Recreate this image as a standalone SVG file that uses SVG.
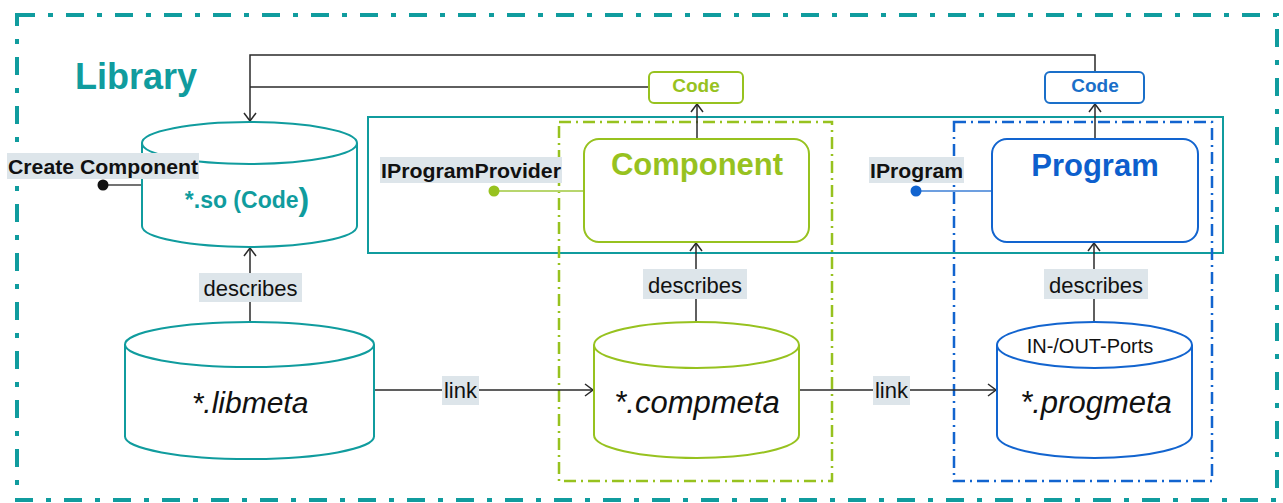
<svg xmlns="http://www.w3.org/2000/svg" width="1283" height="503" viewBox="0 0 1283 503">
<style>
.t{font-family:"Liberation Sans",Arial,sans-serif}
.b{font-weight:bold}
.cyl{fill:#fff;stroke-width:2}
.teal{stroke:#109c9e}
.green{stroke:#97c21f}
.blue{stroke:#1264cf}
.con{fill:none;stroke:#2a2a2a;stroke-width:1.5}
.lbl{fill:#dde5ea}
</style>
<defs>
<marker id="arr" viewBox="-10 -7 12 14" refX="0" refY="0" markerWidth="12" markerHeight="14" markerUnits="userSpaceOnUse" orient="auto">
<path d="M-8,-6 L0,0 L-8,6" fill="none" stroke="#2a2a2a" stroke-width="1.5"/>
</marker>
</defs>
<rect width="1283" height="503" fill="#fff"/>
<g id="library-frame">
<rect x="17" y="15" width="1260" height="485" fill="none" stroke="#109c9e" stroke-width="4" stroke-dasharray="18 13 5 13"/>
<text class="t b" x="75" y="89" font-size="36" fill="#109c9e">Library</text>
</g>
<g id="interface-area">
<rect x="368" y="117" width="855" height="136" fill="none" stroke="#109c9e" stroke-width="2"/>
</g>
<g id="component-area">
<rect x="559" y="122" width="273" height="359" fill="none" stroke="#97c21f" stroke-width="2.5" stroke-dasharray="12 5 2 5"/>
</g>
<g id="program-area">
<rect x="954" y="122" width="258" height="359" fill="none" stroke="#1264cf" stroke-width="2.5" stroke-dasharray="12 5 2 5"/>
</g>
<g id="connectors">
<path class="con" d="M1095,72 V55 H250 V121" marker-end="url(#arr)"/>
<path class="con" d="M649,87 H250"/>
<path class="con" d="M697,139 V104" marker-end="url(#arr)"/>
<path class="con" d="M1095,139 V104" marker-end="url(#arr)"/>
<path class="con" d="M250,322 V248" marker-end="url(#arr)"/>
<path class="con" d="M696,322 V243" marker-end="url(#arr)"/>
<path class="con" d="M1094,322 V243" marker-end="url(#arr)"/>
<path class="con" d="M374,390 H593" marker-end="url(#arr)"/>
<path class="con" d="M799,390 H996" marker-end="url(#arr)"/>
<path d="M103,185 H142" stroke="#444" stroke-width="1.5" fill="none"/>
<path d="M494,191 H584" stroke="#b8d66e" stroke-width="2" fill="none"/>
<path d="M916,191 H992" stroke="#6d9fe0" stroke-width="2" fill="none"/>
<g id="label-describes-1"><rect class="lbl" x="199" y="273" width="103" height="29"/><text class="t" x="250.5" y="296" font-size="22" text-anchor="middle" fill="#111">describes</text></g>
<g id="label-describes-2"><rect class="lbl" x="643" y="269" width="104" height="30"/><text class="t" x="695" y="293" font-size="22" text-anchor="middle" fill="#111">describes</text></g>
<g id="label-describes-3"><rect class="lbl" x="1044" y="269" width="104" height="30"/><text class="t" x="1096" y="293" font-size="22" text-anchor="middle" fill="#111">describes</text></g>
<g id="label-link-1"><rect class="lbl" x="442" y="376" width="37" height="29"/><text class="t" x="460.5" y="398" font-size="22" text-anchor="middle" fill="#111">link</text></g>
<g id="label-link-2"><rect class="lbl" x="873" y="376" width="37" height="29"/><text class="t" x="891.5" y="398" font-size="22" text-anchor="middle" fill="#111">link</text></g>
</g>
<g id="so-code">
<path class="cyl teal" d="M142,143 V226 A107.5,21 0 0 0 357,226 V143"/>
<ellipse class="cyl teal" cx="249.5" cy="143" rx="107.5" ry="21"/>
<text class="t b" x="247" y="208" font-size="23" text-anchor="middle" fill="#109c9e">*.so (Code<tspan font-size="32" dy="2">)</tspan></text>
</g>
<g id="create-component">
<rect class="lbl" x="7" y="153" width="192" height="26"/>
<text class="t b" x="8" y="174" font-size="20" textLength="190" lengthAdjust="spacingAndGlyphs" fill="#111">Create Component</text>
<circle cx="103" cy="185" r="5.5" fill="#111"/>
</g>
<g id="libmeta">
<path class="cyl teal" d="M125,344.5 V436.5 A124.5,22.5 0 0 0 374,436.5 V344.5"/>
<ellipse class="cyl teal" cx="249.5" cy="344.5" rx="124.5" ry="22.5"/>
<text class="t" x="250" y="413" font-size="30" font-style="italic" text-anchor="middle" fill="#111">*.libmeta</text>
</g>
<g id="code-component">
<rect x="649" y="72" width="94" height="31" rx="5" fill="#fff" stroke="#97c21f" stroke-width="2"/>
<text class="t b" x="696" y="92" font-size="19" text-anchor="middle" fill="#97c21f">Code</text>
</g>
<g id="component">
<rect x="584" y="139" width="225" height="103" rx="15" fill="#fff" stroke="#97c21f" stroke-width="2"/>
<text class="t b" x="697" y="175" font-size="31" text-anchor="middle" fill="#97c21f">Component</text>
</g>
<g id="iprogramprovider">
<rect class="lbl" x="380" y="157" width="182" height="26"/>
<text class="t b" x="381" y="178" font-size="21" textLength="180" lengthAdjust="spacingAndGlyphs" fill="#111">IProgramProvider</text>
<circle cx="494" cy="191" r="5.5" fill="#97c21f"/>
</g>
<g id="compmeta">
<path class="cyl green" d="M594,345 V435 A102.5,23 0 0 0 799,435 V345"/>
<ellipse class="cyl green" cx="696.5" cy="345" rx="102.5" ry="23"/>
<text class="t" x="697" y="413" font-size="31" font-style="italic" text-anchor="middle" fill="#111">*.compmeta</text>
</g>
<g id="code-program">
<rect x="1045" y="72" width="99" height="31" rx="5" fill="#fff" stroke="#1a6fc9" stroke-width="2"/>
<text class="t b" x="1095" y="92" font-size="19" text-anchor="middle" fill="#1a6fc9">Code</text>
</g>
<g id="program">
<rect x="992" y="139" width="206" height="103" rx="15" fill="#fff" stroke="#1264cf" stroke-width="2"/>
<text class="t b" x="1095" y="176" font-size="31" text-anchor="middle" fill="#0d5fcd">Program</text>
</g>
<g id="iprogram">
<rect class="lbl" x="869" y="157" width="95" height="26"/>
<text class="t b" x="870" y="178" font-size="21" textLength="93" lengthAdjust="spacingAndGlyphs" fill="#111">IProgram</text>
<circle cx="916" cy="191" r="5.5" fill="#1264cf"/>
</g>
<g id="progmeta">
<path class="cyl blue" d="M997,345 V435 A97.5,23 0 0 0 1192,435 V345"/>
<ellipse class="cyl blue" cx="1094.5" cy="345" rx="97.5" ry="23"/>
<text class="t" x="1090" y="353" font-size="20" text-anchor="middle" fill="#111">IN-/OUT-Ports</text>
<text class="t" x="1096" y="413" font-size="31" font-style="italic" text-anchor="middle" fill="#111">*.progmeta</text>
</g>
</svg>
